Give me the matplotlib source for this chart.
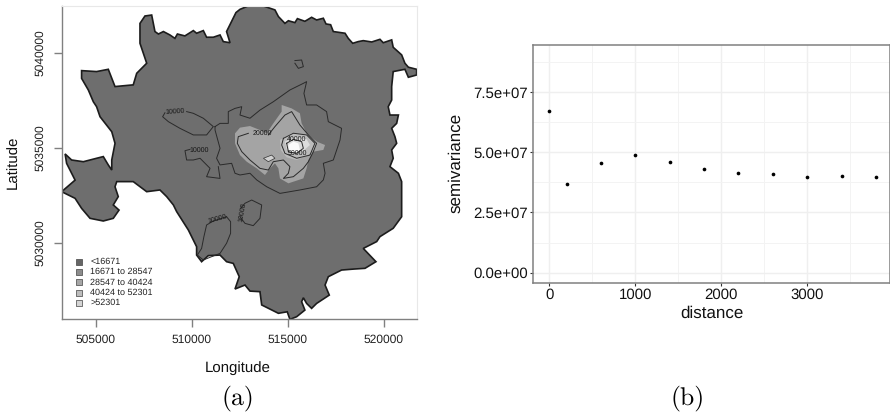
import matplotlib
matplotlib.use("Agg")
import matplotlib.pyplot as plt

plt.rcParams['font.family'] = ['Liberation Sans', 'DejaVu Sans']
plt.rcParams['text.hinting'] = 'no_hinting'
plt.rcParams['text.hinting_factor'] = 1

# city boundary
city_lon = [512290, 512500, 512930, 513710, 514320, 514500, 514840, 515020, 515360, 515490, 515880, 516230, 516490, 516840, 516980, 517220, 517360, 517970, 518140, 518370, 518660, 518920, 519360, 519790, 519960, 520400, 520480, 520920, 521090, 521270, 521700, 521700, 521270, 521090, 520480, 520400, 520400, 520220, 520310, 520750, 520660, 520400, 520570, 520660, 520400, 520480, 520310, 520750, 520920, 520920, 520920, 520480, 519790, 519620, 518920, 519580, 519010, 518400, 517790, 517100, 516930, 517150, 516490, 516230, 515970, 515800, 515710, 515880, 515450, 515100, 514960, 514500, 513630, 513540, 513020, 512760, 512240, 512460, 512150, 511800, 511460, 510850, 510500, 510240, 510240, 509810, 509200, 509030, 508680, 508330, 507640, 506940, 506080, 505990, 506160, 505900, 506200, 505900, 505380, 504690, 504250, 503910, 503210, 503910, 503470, 503390, 503730, 504340, 505030, 505380, 505640, 505820, 505820, 505990, 505820, 505210, 505030, 504860, 504600, 504250, 504250, 505030, 505640, 505990, 506940, 507120, 507640, 507290, 507290, 507550, 507900, 508070, 508250, 508510, 508850, 509110, 509240, 509630, 510070, 510240, 510590, 510760, 511110, 511460, 511630, 511980, 511800]
city_lat = [5042130, 5042300, 5042480, 5042480, 5042270, 5041920, 5041560, 5041700, 5041600, 5041810, 5041670, 5041880, 5041740, 5041830, 5041530, 5041490, 5041130, 5041040, 5040770, 5040510, 5040600, 5040650, 5040580, 5040720, 5040540, 5040690, 5040300, 5039900, 5039460, 5039250, 5039140, 5038840, 5038720, 5039140, 5039020, 5038230, 5037520, 5037170, 5036730, 5036730, 5036290, 5036030, 5035590, 5035240, 5034890, 5034450, 5034010, 5033660, 5033220, 5032430, 5031370, 5030760, 5030320, 5030060, 5029700, 5029000, 5028650, 5028610, 5028560, 5028210, 5027770, 5027240, 5026800, 5026540, 5026800, 5027100, 5026890, 5026450, 5026100, 5025960, 5026360, 5026280, 5026720, 5027420, 5027450, 5027770, 5027560, 5028210, 5028910, 5029000, 5029350, 5029320, 5029000, 5029350, 5029790, 5030670, 5031640, 5031990, 5032430, 5032780, 5032690, 5033220, 5033220, 5032950, 5032430, 5031990, 5031720, 5031285, 5031145, 5031285, 5031810, 5032340, 5032690, 5033300, 5034180, 5034680, 5034360, 5034270, 5034450, 5034540, 5034100, 5033830, 5034360, 5035240, 5035850, 5036640, 5037170, 5037430, 5038050, 5038660, 5039070, 5039020, 5039140, 5038230, 5038320, 5038930, 5039460, 5040510, 5041560, 5041950, 5042000, 5041130, 5041000, 5041130, 5040950, 5040770, 5041000, 5040900, 5041180, 5041040, 5041180, 5040830, 5040830, 5040950, 5040600, 5040540, 5041130]

# kriged bands
band2_lon = [512240, 512500, 513020, 513540, 513890, 514235, 514670, 514670, 515190, 515620, 515710, 515970, 516490, 516930, 516840, 516320, 516060, 515970, 515800, 515020, 514580, 514500, 514320, 514060, 513800, 513370, 512850, 512500, 512240]
band2_lat = [5035766, 5036065, 5036150, 5035940, 5035770, 5036290, 5036910, 5037260, 5037080, 5036820, 5036290, 5035770, 5035330, 5035150, 5034890, 5034800, 5034360, 5033920, 5033390, 5033130, 5033390, 5033920, 5034185, 5033920, 5033570, 5033920, 5034270, 5034620, 5035240]
band3_lon = [514580, 515190, 515970, 516490, 516400, 516060, 515450, 514930, 514620]
band3_lat = [5035415, 5035770, 5035680, 5035330, 5034975, 5034620, 5034360, 5034500, 5034890]
band4_lon = [514840, 515360, 515970, 516145, 515800, 515280, 514930]
band4_lat = [5035330, 5035555, 5035450, 5035150, 5034850, 5034750, 5034920]
core_lon = [515020, 515280, 515540, 515620, 515360, 515060]
core_lat = [5035150, 5035330, 5035240, 5034890, 5034710, 5034800]
patch_lon = [513720, 514150, 514320, 513975]
patch_lat = [5034450, 5034620, 5034450, 5034270]

# contour lines
c10_loop_lon = [509720, 510070, 510590, 511110, 510760, 510070, 509370, 508770, 508470, 508590]
c10_loop_lat = [5036910, 5036820, 5036560, 5036120, 5035680, 5035680, 5036030, 5036380, 5036640, 5036850]
c10_ring_lon = [511200, 511460, 511890, 511890, 512240, 512590, 512500, 513020, 513540, 514235, 515100, 515800, 515970, 515830, 515970, 516490, 517010, 517100, 517790, 517710, 517360, 516840, 516930, 516840, 516490, 515620, 514580, 513890, 513370, 513020, 512500, 512240, 512065, 511460, 511280, 511460, 511200, 511200]
c10_ring_lat = [5036120, 5036290, 5036290, 5036910, 5037080, 5037170, 5036730, 5036560, 5036990, 5037430, 5038050, 5038400, 5038490, 5037870, 5037260, 5037260, 5036910, 5036380, 5036030, 5035415, 5034360, 5034185, 5033660, 5033310, 5032950, 5032780, 5032600, 5032950, 5033310, 5033660, 5033570, 5033660, 5034185, 5034100, 5034450, 5034975, 5035940, 5036120]
c10_west_lon = [509895, 509635, 509720, 510070, 510420, 510680, 510940, 510760, 511460, 511370]
c10_west_lat = [5034920, 5034850, 5034360, 5034360, 5034450, 5034185, 5033920, 5033480, 5033390, 5034010]
c10_south_lon = [511800, 511110, 510760, 510620, 510500, 510280, 510590, 511460, 511800, 512010, 512010, 511800]
c10_south_lat = [5031370, 5031145, 5030935, 5030320, 5029700, 5029350, 5029090, 5029440, 5029970, 5030495, 5031110, 5031370]
c10_oval_lon = [512500, 512760, 513190, 513540, 513630, 513110, 512760, 512530]
c10_oval_lat = [5031370, 5031020, 5030900, 5031285, 5031990, 5032250, 5032080, 5031810]
c20_lon = [512935, 512410, 512360, 512590, 513020, 513540, 513975, 514235, 514760, 515100, 515020, 514760, 515280, 515800, 516060, 516320, 516490, 516060, 515620, 515190, 514840, 514320, 513975]
c20_lat = [5035766, 5035590, 5035240, 5034800, 5034360, 5033920, 5033830, 5034270, 5034360, 5034010, 5033660, 5033390, 5033480, 5033920, 5034270, 5034800, 5035240, 5035680, 5036205, 5036910, 5036730, 5036120, 5035680]
c30_lon = [514760, 515280, 515970, 516400, 516145, 515450, 514840, 514670, 514760]
c30_lat = [5035500, 5035770, 5035680, 5035240, 5034620, 5034450, 5034710, 5035150, 5035500]
c40_lon = [514930, 515280, 515710, 515800, 515450, 515020, 514930]
c40_lat = [5035240, 5035450, 5035330, 5034975, 5034710, 5034800, 5035240]
isle_lon = [515360, 515710, 515800, 515540, 515360]
isle_lat = [5039600, 5039630, 5039280, 5039190, 5039460]

legend_labels = ['<16671', '16671 to 28547', '28547 to 40424', '40424 to 52301', '>52301']
legend_colors = ['#666666', '#8c8c8c', '#a6a6a6', '#bdbdbd', '#d4d4d4']

# variogram
distance = [0, 200, 600, 1000, 1400, 1800, 2200, 2600, 3000, 3400, 3800]
semivariance = [67.0e6, 36.8e6, 45.5e6, 48.7e6, 46.1e6, 43.0e6, 41.2e6, 41.1e6, 39.9e6, 40.0e6, 39.9e6]

W, H = 890, 415
fig = plt.figure(figsize=(W / 100, H / 100), dpi=100)

# left panel
ax = fig.add_axes([61.5 / W, 1 - 319 / H, 355 / W, 313 / H])
ax.fill(city_lon, city_lat, fc='#6e6e6e', ec='#1c1c1c', lw=1.2)
ax.fill(band2_lon, band2_lat, fc='#a4a4a4', ec='none')
ax.fill(band3_lon, band3_lat, fc='#bcbcbc', ec='none')
ax.fill(band4_lon, band4_lat, fc='#dcdcdc', ec='none')
ax.fill(patch_lon, patch_lat, fc='#d0d0d0', ec='#333333', lw=0.5)
ax.fill(core_lon, core_lat, fc='#fafafa', ec='none')

contours = [(c10_loop_lon, c10_loop_lat), (c10_ring_lon, c10_ring_lat), (c10_west_lon, c10_west_lat),
            (c10_south_lon, c10_south_lat), (c10_oval_lon, c10_oval_lat), (c20_lon, c20_lat),
            (c30_lon, c30_lat), (c40_lon, c40_lat), (isle_lon, isle_lat)]
for clon, clat in contours:
    ax.plot(clon, clat, color='#2a2a2a', lw=0.7)

labels = [(509100, 5036900, '10000', 4), (510400, 5034880, '10000', 0), (513650, 5035780, '20000', 0),
          (515430, 5035480, '40000', 0), (515480, 5034720, '50000', 0), (511300, 5031280, '10000', 15),
          (512600, 5031600, '10000', 80)]
for lx, ly, txt, rot in labels:
    ax.text(lx, ly, txt, fontsize=5, ha='center', va='center', rotation=rot, color='#111111')

leg_y = [5029000, 5028456, 5027913, 5027365, 5026822]
for yy, lab, col in zip(leg_y, legend_labels, legend_colors):
    ax.scatter(504130, yy, marker='s', s=20, c=col, edgecolors='#444444', linewidths=0.5, zorder=3)
    ax.text(504700, yy, lab, fontsize=6.3, va='center', color='#222222')

ax.set_xlim(503203, 521693)
ax.set_ylim(5025980, 5042476)
ax.set_xticks([505000, 510000, 515000, 520000])
ax.set_yticks([5030000, 5035000, 5040000])
ax.ticklabel_format(useOffset=False, style='plain')
ax.tick_params(length=6, width=1, color='#808080', labelsize=8.5, labelcolor='#222222', pad=5)
plt.setp(ax.get_yticklabels(), rotation=90, va='center')
for s in ['left', 'bottom']:
    ax.spines[s].set_color('#808080')
    ax.spines[s].set_linewidth(1.0)
for s in ['top', 'right']:
    ax.spines[s].set_color('#e8e8e8')
    ax.spines[s].set_linewidth(0.8)
fig.text(238 / W, 1 - 368 / H, 'Longitude', fontsize=11, ha='center', va='center', color='#111111')
fig.text(14 / W, 1 - 162 / H, 'Latitude', fontsize=11, rotation=90, ha='center', va='center', color='#111111')

# right panel
ax2 = fig.add_axes([533 / W, 1 - 283.3 / H, 357 / W, 238.3 / H])
ax2.scatter(distance, semivariance, s=7, c='black', linewidths=0, zorder=3)
ax2.set_xlim(-190, 3962)
ax2.set_ylim(-4.4e6, 94.5e6)
ax2.set_xticks([0, 1000, 2000, 3000])
ax2.set_xticks([500, 1500, 2500, 3500], minor=True)
ax2.set_yticks([0, 2.5e7, 5e7, 7.5e7])
ax2.set_yticklabels(['0.0e+00', '2.5e+07', '5.0e+07', '7.5e+07'])
ax2.set_yticks([1.25e7, 3.75e7, 6.25e7, 8.75e7], minor=True)
ax2.grid(True, which='major', color='#efefef', lw=1.0)
ax2.grid(True, which='minor', color='#f3f3f3', lw=0.7)
ax2.set_axisbelow(True)
ax2.tick_params(which='major', length=2.5, width=0.8, color='#333333', labelsize=10.8, labelcolor='#111111', pad=1)
ax2.tick_params(which='minor', length=0)
for s in ax2.spines.values():
    s.set_color('#808080')
    s.set_linewidth(1.1)
fig.text(712 / W, 1 - 313 / H, 'distance', fontsize=12.6, ha='center', va='center', color='#111111')
fig.text(456 / W, 1 - 163 / H, 'semivariance', fontsize=12.6, rotation=90, ha='center', va='center', color='#111111')

# captions
fig.text(238 / W, 1 - 398 / H, '(a)', family='cmr10', fontsize=18.5, ha='center', va='center')
fig.text(688 / W, 1 - 398 / H, '(b)', family='cmr10', fontsize=18.5, ha='center', va='center')

fig.savefig('out.png', dpi=100)
